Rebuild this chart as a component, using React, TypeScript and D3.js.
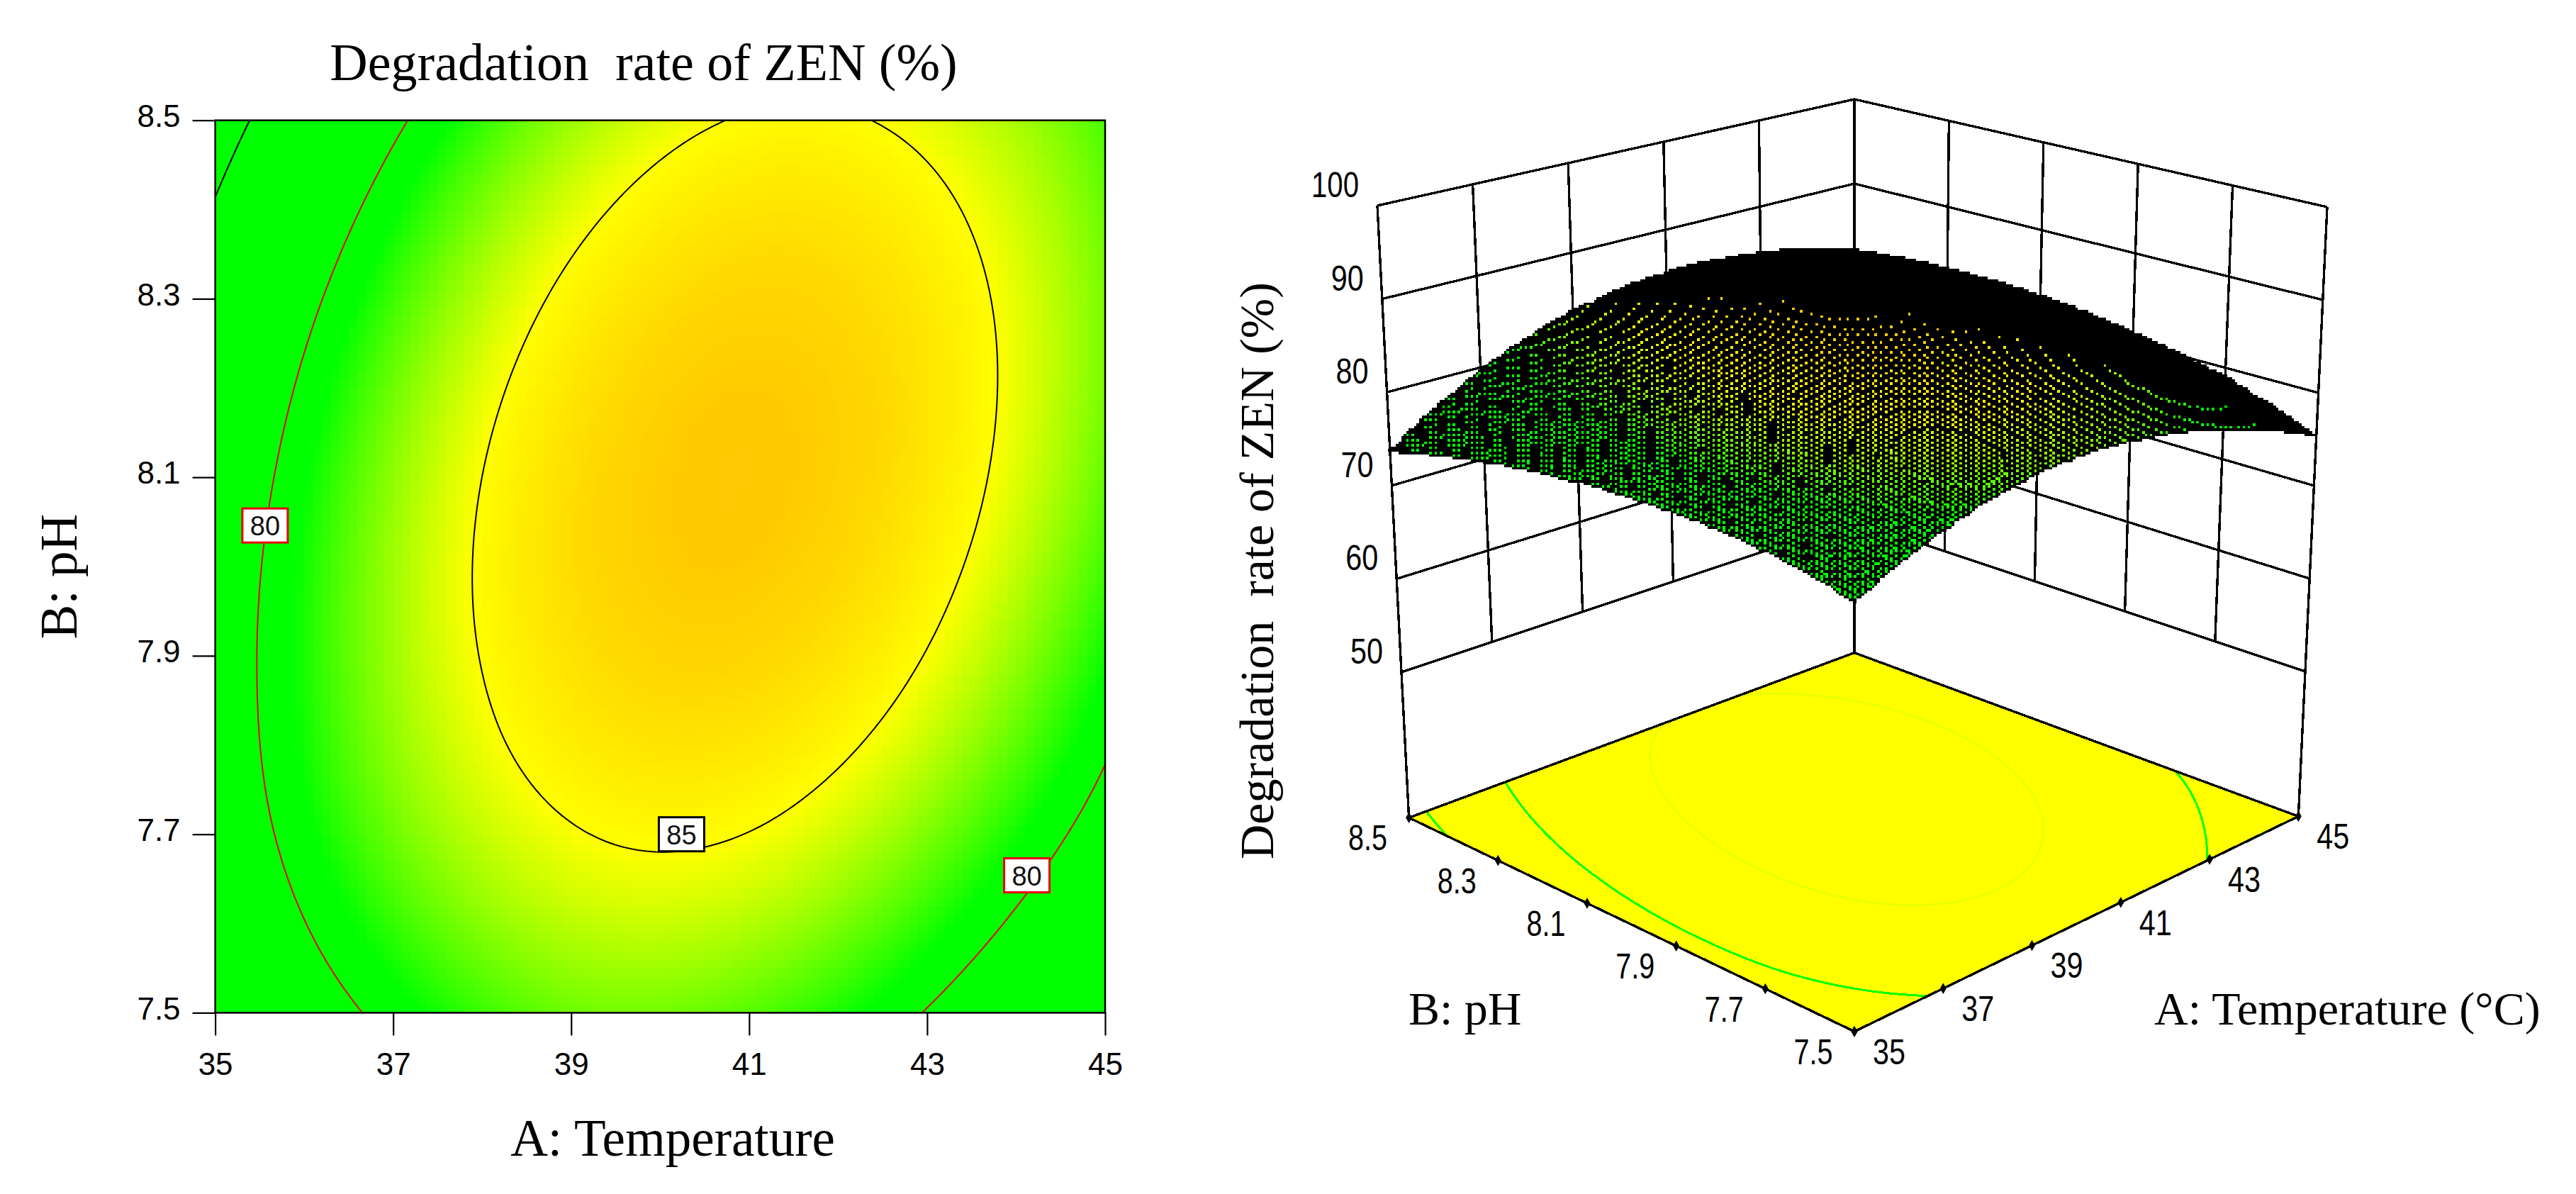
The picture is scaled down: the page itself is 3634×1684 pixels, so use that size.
import React, { useEffect, useRef } from 'react';
import * as d3 from 'd3';

// factor levels (tick labels on both panels)
const temperatureTicks = [35, 37, 39, 41, 43, 45];
const phTicks = [7.5, 7.7, 7.9, 8.1, 8.3, 8.5];
const zTicks = [50, 60, 70, 80, 90, 100];

// degradation rate, one row per pH, one value per temperature tick
const rateAtPh75 = [76.6, 80.55, 82.65, 82.33, 79.9, 75.36];
const rateAtPh77 = [78.3, 82.68, 84.89, 84.97, 82.95, 79.0];
const rateAtPh79 = [78.68, 83.48, 86.08, 86.57, 84.94, 81.2];
const rateAtPh81 = [78.05, 83.23, 86.24, 87.12, 85.9, 82.56];
const rateAtPh83 = [76.42, 81.94, 85.35, 86.63, 85.81, 82.87];
const rateAtPh85 = [73.69, 79.61, 83.41, 85.1, 84.63, 82.14];
const rateRows = [rateAtPh75, rateAtPh77, rateAtPh79, rateAtPh81, rateAtPh83, rateAtPh85];

// contour levels and their in-plot labels
const contourLevels = [75, 80, 85];
const contourColors = ['#000', '#e8000b', '#000'];
const floorContourColors = ['#00ff00', '#00ff00', '#eaff00'];
const labelTexts = ['80', '85', '80'];
const labelTemps = [35.56, 40.24, 44.12];
const labelPhs = [8.046, 7.7, 7.654];
const labelColors = ['#e8000b', '#000', '#e8000b'];

const colorScale = d3
  .scaleLinear<string>()
  .domain([81, 85, 87.13])
  .range(['#00ff00', '#ffff00', '#ffc800'])
  .clamp(true);

// Catmull-Rom through the table, the end points extended so the curve stays smooth at the borders
function spline(values: number[], t: number) {
  const n = values.length;
  const i = Math.min(Math.floor(t), n - 2);
  const f = t - i;
  const at = (k: number) => {
    if (k < 0) return 3 * values[0] - 3 * values[1] + values[2];
    if (k >= n) return 3 * values[n - 1] - 3 * values[n - 2] + values[n - 3];
    return values[k];
  };
  const p0 = at(i - 1);
  const p1 = at(i);
  const p2 = at(i + 1);
  const p3 = at(i + 2);
  return 0.5 * (2 * p1 + (p2 - p0) * f + (2 * p0 - 5 * p1 + 4 * p2 - p3) * f * f + (3 * p1 - p0 - 3 * p2 + p3) * f * f * f);
}

function rateAt(temp: number, ph: number) {
  const tx = (temp - 35) / 2;
  const ty = (ph - 7.5) / 0.2;
  return spline(rateRows.map((row) => spline(row, tx)), ty);
}

// contour lines in data coordinates, the parts that run along the plot border removed
function contourLines() {
  const n = 201;
  const values = new Array(n * n);
  for (let j = 0; j < n; j++) {
    for (let i = 0; i < n; i++) {
      values[j * n + i] = rateAt(35 + (i / (n - 1)) * 10, 7.5 + j / (n - 1));
    }
  }
  const gen = d3.contours().size([n, n]).thresholds(contourLevels);
  return gen(values).map((c) => {
    const lines: [number, number][][] = [];
    c.coordinates.forEach((poly) =>
      poly.forEach((ring) => {
        let cur: [number, number][] = [];
        ring.forEach(([x, y]) => {
          if (x <= 0 || y <= 0 || x >= n || y >= n) {
            if (cur.length > 1) lines.push(cur);
            cur = [];
          } else {
            cur.push([35 + ((x - 0.5) / (n - 1)) * 10, 7.5 + (y - 0.5) / (n - 1)]);
          }
        });
        if (cur.length > 1) lines.push(cur);
      })
    );
    return { level: c.value, lines };
  });
}

// 3D panel: each box corner is a pair of scales from z to screen position
const floorZ = 34.4;
const column = (xr: number[], yr: number[]) => ({
  x: d3.scaleLinear().domain([50, 100]).range(xr),
  y: d3.scaleLinear().domain([50, 100]).range(yr),
});
const frontCol = column([2616, 2616], [1231, 513.5]);
const rightCol = column([3252, 3283], [947, 292]);
const leftCol = column([1977, 1943], [948, 290]);
const backCol = column([2616, 2616], [735, 140]);
const aScale = d3.scaleLinear().domain([35, 45]).range([0, 1]);
const bScale = d3.scaleLinear().domain([7.5, 8.5]).range([0, 1]);

function project(temp: number, ph: number, z: number): [number, number] {
  const a = aScale(temp);
  const b = bScale(ph);
  const mix = (k: 'x' | 'y') =>
    (1 - a) * (1 - b) * frontCol[k](z) + a * (1 - b) * rightCol[k](z) + (1 - a) * b * leftCol[k](z) + a * b * backCol[k](z);
  return [mix('x'), mix('y')];
}

const SERIF = '"Liberation Serif", "Times New Roman", serif';
const SANS = '"Liberation Sans", Arial, sans-serif';

// the surface is a coarse bitmap in the original, so paint the mesh cells into one
function rasterSurface(cells: number, px: number) {
  const W = Math.ceil(3634 / px);
  const H = Math.ceil(1684 / px);
  const buf: (string | null)[] = new Array(W * H).fill(null);
  const put = (i: number, j: number, c: string) => {
    if (i >= 0 && j >= 0 && i < W && j < H) buf[j * W + i] = c;
  };
  const edge = (a: [number, number], b: [number, number]) => {
    let x0 = a[0];
    let y0 = a[1];
    const x1 = b[0];
    const y1 = b[1];
    const dx = Math.abs(x1 - x0);
    const dy = Math.abs(y1 - y0);
    const sx = x0 < x1 ? 1 : -1;
    const sy = y0 < y1 ? 1 : -1;
    let err = dx - dy;
    for (;;) {
      put(x0, y0, '#000');
      if (x0 === x1 && y0 === y1) break;
      const e2 = 2 * err;
      if (e2 > -dy) {
        err -= dy;
        x0 += sx;
      }
      if (e2 < dx) {
        err += dx;
        y0 += sy;
      }
    }
  };
  const inside = (q: [number, number][], x: number, y: number) => {
    let pos = 0;
    let neg = 0;
    for (let k = 0; k < 4; k++) {
      const a = q[k];
      const b = q[(k + 1) % 4];
      const cr = (b[0] - a[0]) * (y - a[1]) - (b[1] - a[1]) * (x - a[0]);
      if (cr > 0) pos++;
      if (cr < 0) neg++;
    }
    return pos === 0 || neg === 0;
  };
  for (let i = cells - 1; i >= 0; i--) {
    for (let j = cells - 1; j >= 0; j--) {
      const t0 = 35 + (i / cells) * 10;
      const t1 = 35 + ((i + 1) / cells) * 10;
      const p0 = 7.5 + j / cells;
      const p1 = 7.5 + (j + 1) / cells;
      // vertices snap to whole bitmap pixels, as a GDI polygon would
      const q = [
        project(t0, p0, rateAt(t0, p0)),
        project(t1, p0, rateAt(t1, p0)),
        project(t1, p1, rateAt(t1, p1)),
        project(t0, p1, rateAt(t0, p1)),
      ].map((d) => [Math.round(d[0] / px), Math.round(d[1] / px)] as [number, number]);
      const color = colorScale(rateAt((t0 + t1) / 2, (p0 + p1) / 2));
      const xs = d3.extent(q, (d) => d[0]) as [number, number];
      const ys = d3.extent(q, (d) => d[1]) as [number, number];
      for (let y = ys[0]; y <= ys[1]; y++) {
        for (let x = xs[0]; x <= xs[1]; x++) {
          if (inside(q, x, y)) put(x, y, color);
        }
      }
      q.forEach((d, k) => edge(d, q[(k + 1) % 4]));
    }
  }
  // runs of equal pixels become one rect each
  const runs: { x: number; y: number; w: number; c: string }[] = [];
  for (let j = 0; j < H; j++) {
    let i = 0;
    while (i < W) {
      const c = buf[j * W + i];
      if (!c) {
        i++;
        continue;
      }
      let e = i + 1;
      while (e < W && buf[j * W + e] === c) e++;
      runs.push({ x: (i - 0.5) * px, y: (j - 0.5) * px, w: (e - i) * px, c });
      i = e;
    }
  }
  return runs;
}

export default function App() {
  const ref = useRef<SVGSVGElement | null>(null);

  useEffect(() => {
    const svg = d3.select(ref.current);
    svg.selectAll('*').remove();
    const contours = contourLines();

    // ---- contour plot ----
    const x = d3.scaleLinear().domain([35, 45]).range([303.6, 1559]);
    const y = d3.scaleLinear().domain([7.5, 8.5]).range([1428.4, 169.7]);

    const cells = 100;
    const cellIdx = d3.range(cells);
    const heat = svg.append('g').attr('shape-rendering', 'crispEdges');
    cellIdx.forEach((j) => {
      cellIdx.forEach((i) => {
        const t0 = 35 + (i / cells) * 10;
        const p0 = 7.5 + (j / cells);
        heat
          .append('rect')
          .attr('x', x(t0))
          .attr('y', y(p0 + 1 / cells))
          .attr('width', x(35 + 10 / cells) - x(35) + 1)
          .attr('height', y(7.5) - y(7.5 + 1 / cells) + 1)
          .attr('fill', colorScale(rateAt(t0 + 5 / cells, p0 + 0.5 / cells)));
      });
    });

    const line2d = d3
      .line<[number, number]>()
      .x((d) => x(d[0]))
      .y((d) => y(d[1]));
    contours.forEach((c, k) => {
      c.lines.forEach((l) => {
        svg.append('path').attr('d', line2d(l)).attr('fill', 'none').attr('stroke', contourColors[k]).attr('stroke-width', 2);
      });
    });

    labelTexts.forEach((txt, i) => {
      const cx = x(labelTemps[i]);
      const cy = y(labelPhs[i]);
      svg
        .append('rect')
        .attr('x', cx - 32)
        .attr('y', cy - 24)
        .attr('width', 64)
        .attr('height', 48)
        .attr('fill', '#fff')
        .attr('stroke', labelColors[i])
        .attr('stroke-width', 3);
      svg
        .append('text')
        .attr('x', cx)
        .attr('y', cy + 14)
        .attr('text-anchor', 'middle')
        .attr('font-family', SANS)
        .attr('font-size', 38)
        .attr('fill', '#111')
        .text(txt);
    });

    svg
      .append('rect')
      .attr('x', x(35))
      .attr('y', y(8.5))
      .attr('width', x(45) - x(35))
      .attr('height', y(7.5) - y(8.5))
      .attr('fill', 'none')
      .attr('stroke', '#000')
      .attr('stroke-width', 2.5);

    const axisB = d3.axisBottom(x).tickValues(temperatureTicks).tickSize(32).tickPadding(24).tickFormat(d3.format('d') as any);
    const axisL = d3.axisLeft(y).tickValues(phTicks).tickSize(32).tickPadding(17).tickFormat(d3.format('.1f') as any);
    const gB = svg.append('g').attr('transform', `translate(0,${y(7.5)})`).call(axisB);
    const gL = svg.append('g').attr('transform', `translate(${x(35)},0)`).call(axisL);
    [gB, gL].forEach((g) => {
      g.select('.domain').remove();
      g.selectAll('line').attr('stroke', '#000').attr('stroke-width', 2.2);
      g.selectAll('text').attr('font-family', SANS).attr('font-size', 44).attr('fill', '#000');
    });
    gL.selectAll('text').attr('dy', '0.2em');

    const addText = (txt: string, tx: number, ty: number, size: number, anchor: string, family: string, rot?: number) => {
      const t = svg
        .append('text')
        .attr('text-anchor', anchor)
        .attr('font-family', family)
        .attr('font-size', size)
        .attr('fill', '#000')
        .attr('xml:space', 'preserve')
        .style('white-space', 'pre')
        .text(txt);
      if (rot) t.attr('transform', `translate(${tx},${ty}) rotate(${rot})`);
      else t.attr('x', tx).attr('y', ty);
      return t;
    };

    addText('Degradation  rate of ZEN (%)', 908, 113, 74, 'middle', SERIF);
    addText('A: Temperature', 949, 1630, 73, 'middle', SERIF);
    addText('B: pH', 108, 813, 73, 'middle', SERIF, -90);

    // ---- response surface ----
    const wallLine = d3.line<[number, number]>();
    const walls = svg.append('g').attr('fill', 'none').attr('stroke', '#000').attr('stroke-width', 3.4).attr('shape-rendering', 'crispEdges');
    zTicks.forEach((z) => {
      walls.append('path').attr('d', wallLine([project(35, 8.5, z), project(45, 8.5, z), project(45, 7.5, z)]));
    });
    temperatureTicks.forEach((t) => {
      const low = t === 35 || t === 45 ? floorZ : 50;
      walls.append('path').attr('d', wallLine([project(t, 8.5, low), project(t, 8.5, 100)]));
    });
    phTicks.forEach((p) => {
      const low = p === 7.5 ? floorZ : 50;
      walls.append('path').attr('d', wallLine([project(45, p, low), project(45, p, 100)]));
    });

    // floor with the projected contours
    const floorPts: [number, number][] = [
      project(35, 7.5, floorZ),
      project(45, 7.5, floorZ),
      project(45, 8.5, floorZ),
      project(35, 8.5, floorZ),
    ];
    svg.append('path').attr('d', wallLine(floorPts) + 'Z').attr('fill', '#ffff00').attr('stroke', 'none');
    contours.forEach((c, k) => {
      c.lines.forEach((l) => {
        svg
          .append('path')
          .attr('d', wallLine(l.map((d) => project(d[0], d[1], floorZ))))
          .attr('fill', 'none')
          .attr('stroke', floorContourColors[k])
          .attr('stroke-width', 3)
          .attr('shape-rendering', 'crispEdges');
      });
    });
    svg
      .append('path')
      .attr('d', wallLine(floorPts) + 'Z')
      .attr('fill', 'none')
      .attr('stroke', '#000')
      .attr('stroke-width', 3.4)
      .attr('shape-rendering', 'crispEdges');

    // floor ticks and their labels
    const tickMark = d3.symbol().type(d3.symbolDiamond).size(70);
    const floorLabel = (txt: string, p: [number, number], dx: number) => {
      svg.append('path').attr('d', tickMark()).attr('transform', `translate(${p[0]},${p[1]})`).attr('fill', '#000');
      svg
        .append('text')
        .attr('x', p[0] + dx)
        .attr('y', p[1] + 46)
        .attr('text-anchor', 'middle')
        .attr('font-family', SANS)
        .attr('font-size', 50)
        .attr('textLength', txt.length > 2 ? 55 : 46)
        .attr('lengthAdjust', 'spacingAndGlyphs')
        .attr('fill', '#000')
        .text(txt);
    };
    temperatureTicks.forEach((t) => floorLabel(String(t), project(t, 7.5, floorZ), 49));
    phTicks.forEach((p) => floorLabel(p.toFixed(1), project(35, p, floorZ), -58));

    zTicks.forEach((z) => {
      const p = project(35, 8.5, z);
      svg
        .append('text')
        .attr('x', p[0] - 26)
        .attr('y', p[1] - 12)
        .attr('text-anchor', 'end')
        .attr('font-family', SANS)
        .attr('font-size', 50)
        .attr('textLength', z === 100 ? 67 : 46)
        .attr('lengthAdjust', 'spacingAndGlyphs')
        .attr('fill', '#000')
        .text(z);
    });

    // surface cells painted from the back corner to the front corner
    const px = 3.63;
    svg
      .append('g')
      .attr('shape-rendering', 'crispEdges')
      .selectAll('rect')
      .data(rasterSurface(cells, px))
      .enter()
      .append('rect')
      .attr('x', (d) => d.x)
      .attr('y', (d) => d.y)
      .attr('width', (d) => d.w)
      .attr('height', px)
      .attr('fill', (d) => d.c);

    addText('Degradation  rate of ZEN (%)', 1796, 805, 68, 'middle', SERIF, -90);
    addText('B: pH', 1987, 1445, 66, 'start', SERIF);
    addText('A: Temperature (°C)', 3039, 1445, 66, 'start', SERIF);
  }, []);

  return <svg ref={ref} width={3634} height={1684} style={{ position: 'absolute', left: 0, top: 0, background: '#fff' }} />;
}
